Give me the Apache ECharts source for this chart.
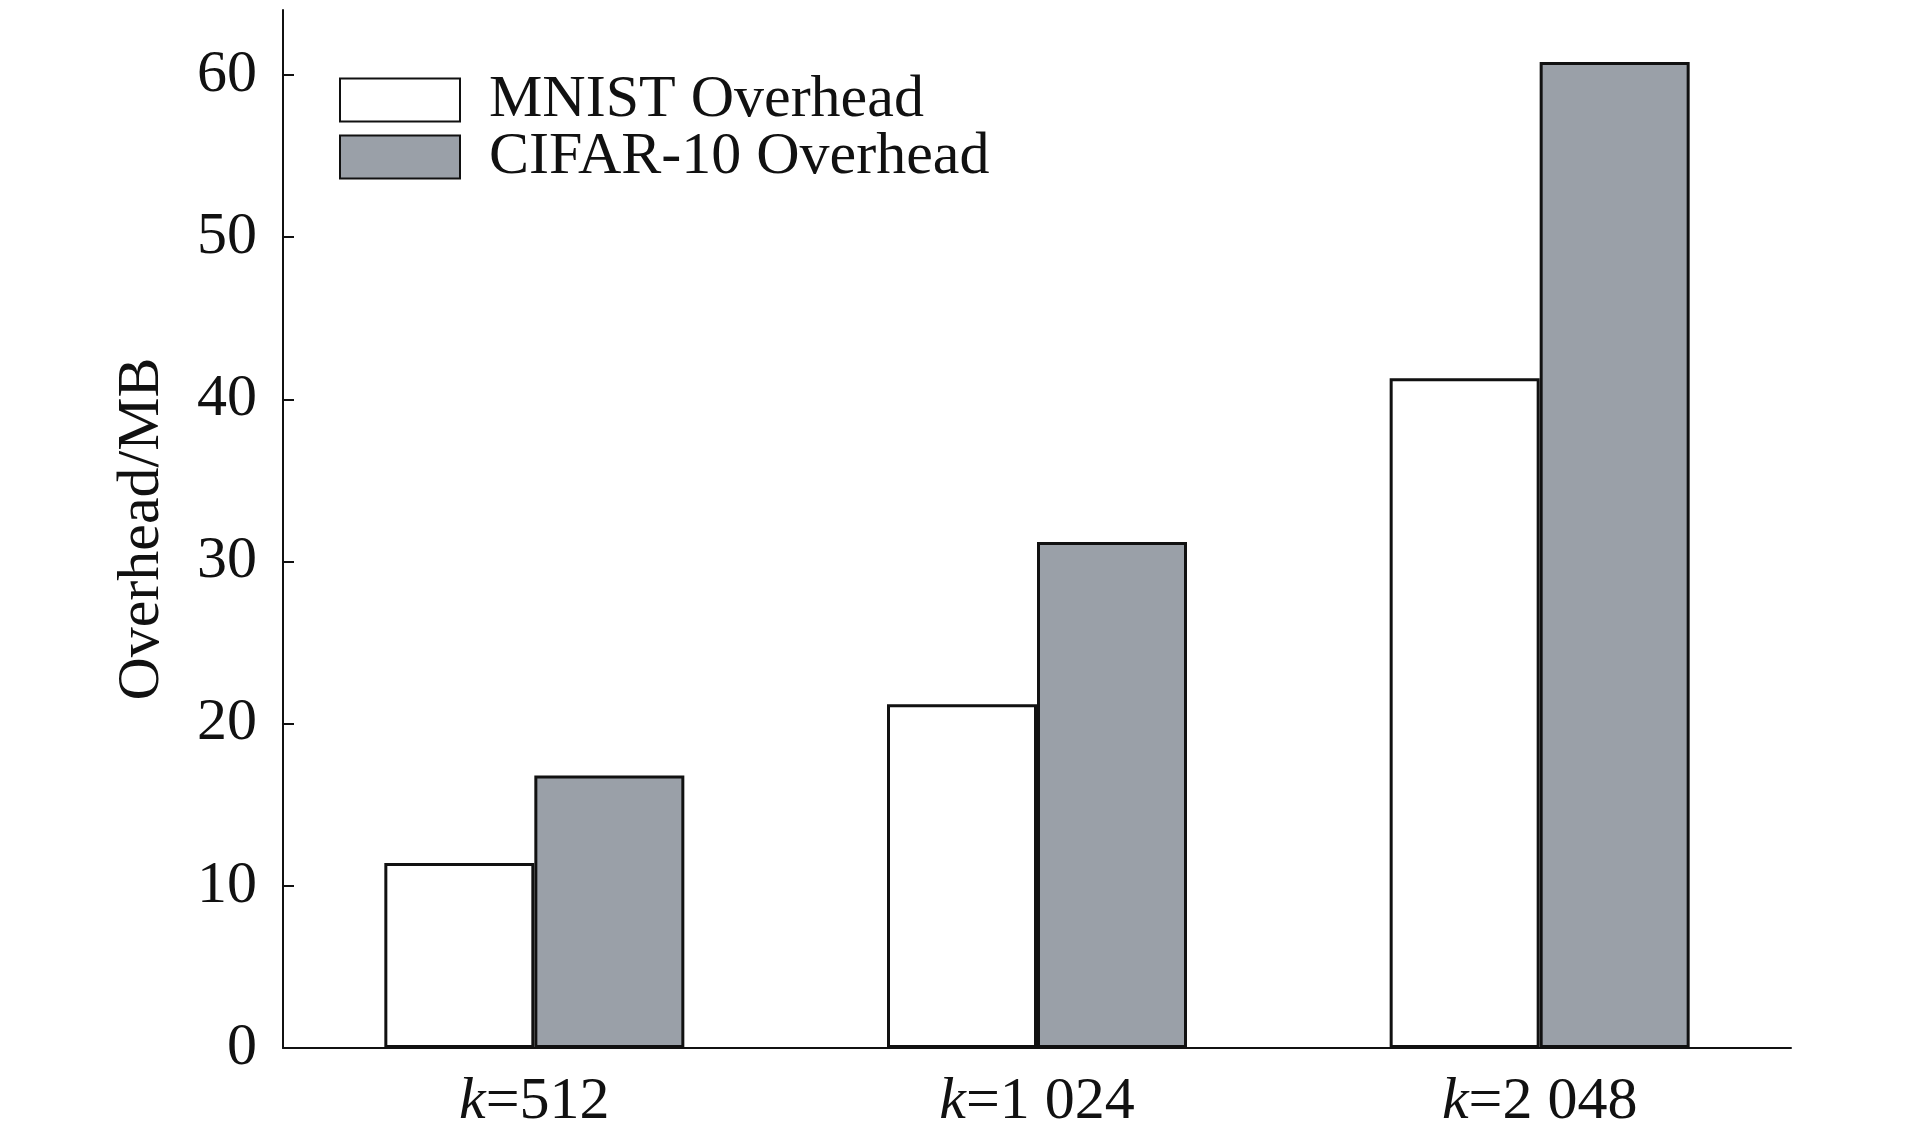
<!DOCTYPE html>
<html>
<head>
<meta charset="utf-8">
<script src="https://cdn.jsdelivr.net/npm/echarts@6/dist/echarts.min.js"></script>
<style>
  html, body { margin: 0; padding: 0; background: #fff; }
  #chart { width: 1913px; height: 1134px; }
</style>
</head>
<body>
<div id="chart"></div>
<script>
// values
var kValues = ['512', '1 024', '2 048'];
var mnistOverhead = [11.4, 21.2, 41.3];
var cifarOverhead = [16.8, 31.2, 60.8];
var yTicks = [0, 10, 20, 30, 40, 50, 60];
var seriesNames = ['MNIST Overhead', 'CIFAR-10 Overhead'];

var font = '"Liberation Serif", "Times New Roman", serif';
var ink = '#111';

var chart = echarts.init(document.getElementById('chart'));

var option = {
  animation: false,
  backgroundColor: '#fff',
  grid: { left: 283, right: 122, top: 10, bottom: 86 },
  legend: {
    left: 334,
    top: 65,
    orient: 'vertical',
    itemWidth: 120,
    itemHeight: 43,
    itemGap: -3,
    icon: 'rect',
    textStyle: {
      fontFamily: font,
      fontSize: 60,
      color: ink,
      padding: [0, 0, 0, 24]
    },
    data: seriesNames
  },
  xAxis: {
    type: 'category',
    data: kValues,
    axisLine: { lineStyle: { color: ink, width: 2 } },
    axisTick: { show: false },
    axisLabel: {
      margin: 24,
      color: ink,
      fontFamily: font,
      fontSize: 60,
      formatter: function (v) { return '{i|k}=' + v; },
      rich: {
        i: { fontStyle: 'italic', fontFamily: font, fontSize: 60, color: ink }
      }
    }
  },
  yAxis: {
    type: 'value',
    min: 0,
    max: 64,
    interval: 10,
    name: 'Overhead/MB',
    nameLocation: 'middle',
    nameGap: 111,
    nameTextStyle: { fontFamily: font, fontSize: 60, color: ink },
    axisLine: { show: true, lineStyle: { color: ink, width: 2 } },
    axisTick: {
      show: true,
      inside: true,
      length: 11,
      lineStyle: { color: ink, width: 2 },
      customValues: yTicks
    },
    axisLabel: {
      margin: 26,
      color: ink,
      fontFamily: font,
      fontSize: 60,
      customValues: yTicks
    },
    splitLine: { show: false }
  },
  series: [
    {
      name: seriesNames[0],
      type: 'bar',
      data: mnistOverhead,
      barWidth: 150,
      barGap: '0%',
      itemStyle: { color: '#ffffff', borderColor: ink, borderWidth: 3 }
    },
    {
      name: seriesNames[1],
      type: 'bar',
      data: cifarOverhead,
      barWidth: 150,
      barGap: '0%',
      itemStyle: { color: '#9aa0a8', borderColor: ink, borderWidth: 3 }
    }
  ]
};

chart.setOption(option);
</script>
</body>
</html>
